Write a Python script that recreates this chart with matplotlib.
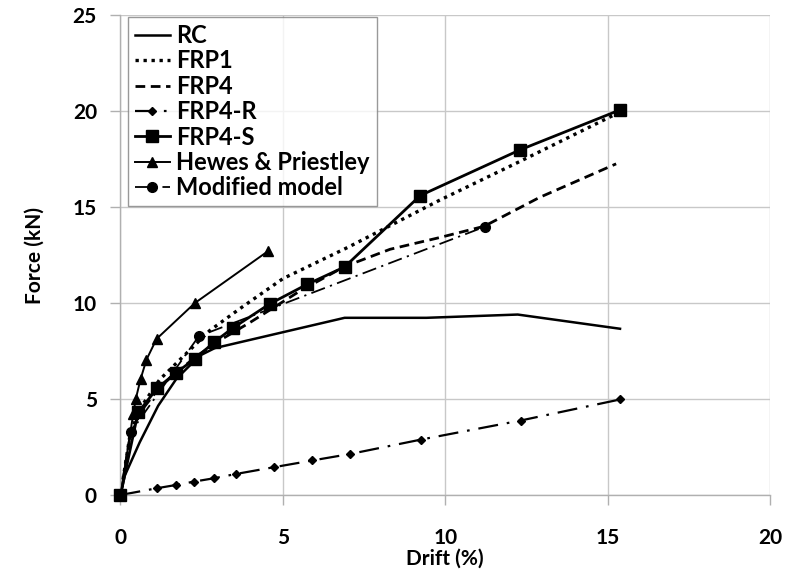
import matplotlib
matplotlib.use("Agg")
import matplotlib.pyplot as plt

plt.rcParams['font.family'] = ['Lato', 'DejaVu Sans']

# Data (drift %, force kN)
rc_x = [0, 0.13, 0.59, 1.16, 1.72, 2.44, 2.9, 6.9, 9.42, 12.23, 15.38]
rc_y = [0, 1.0, 2.74, 4.65, 6.05, 7.26, 7.65, 9.23, 9.23, 9.4, 8.66]

frp1_x = [0, 0.3, 0.6, 1.2, 1.8, 2.75, 3.67, 5.0, 7.0, 9.83, 12.29, 15.2]
frp1_y = [0, 3.2, 4.5, 6.0, 7.0, 8.57, 9.7, 11.27, 12.9, 15.36, 17.37, 19.8]

frp4_x = [0, 0.3, 0.6, 1.2, 1.8, 2.4, 3.0, 4.0, 5.5, 6.9, 8.3, 9.8, 11.2, 12.9, 15.26]
frp4_y = [0, 3.1, 4.3, 5.6, 6.5, 7.3, 8.0, 9.0, 10.6, 11.9, 12.8, 13.4, 14.0, 15.5, 17.25]

frp4r_x = [0, 1.11, 1.7, 2.27, 2.87, 3.57, 4.73, 5.91, 7.08, 9.26, 12.32, 15.39]
frp4r_y = [0, 0.35, 0.52, 0.7, 0.87, 1.1, 1.45, 1.8, 2.14, 2.89, 3.88, 4.98]

frp4s_x = [0, 0.54, 1.13, 1.7, 2.3, 2.88, 3.45, 4.6, 5.74, 6.9, 9.23, 12.29, 15.38]
frp4s_y = [0, 4.3, 5.56, 6.36, 7.1, 7.96, 8.69, 9.96, 10.97, 11.88, 15.6, 17.97, 20.06]

hp_x = [0, 0.39, 0.47, 0.62, 0.8, 1.11, 2.29, 4.54]
hp_y = [0, 4.2, 5.0, 6.05, 7.05, 8.13, 10.0, 12.7]

mm_x = [0, 0.31, 2.41, 11.21]
mm_y = [0, 3.26, 8.27, 13.97]

x_ticks = [0, 5, 10, 15, 20]
y_ticks = [0, 5, 10, 15, 20, 25]

fig = plt.figure(figsize=(7.85, 5.77), dpi=100)
ax = fig.add_axes([0.1535, 0.1421, 0.8275, 0.8318])

k = 'black'
ax.plot(rc_x, rc_y, color=k, lw=1.8, ls='-', label='RC', clip_on=False)
ax.plot(frp1_x, frp1_y, color=k, lw=2.4, ls=(0, (1, 1.4)), label='FRP1', clip_on=False)
ax.plot(frp4_x, frp4_y, color=k, lw=2.0, ls=(0, (3.5, 2)), label='FRP4', clip_on=False)
ax.plot(frp4r_x, frp4r_y, color=k, lw=1.6, ls=(0, (9, 4, 1.2, 4)), marker='D',
        ms=4.5, label='FRP4-R', clip_on=False)
ax.plot(frp4s_x, frp4s_y, color=k, lw=2.0, ls='-', marker='s', ms=8.5, label='FRP4-S',
        clip_on=False, zorder=4)
ax.plot(hp_x, hp_y, color=k, lw=1.4, ls='-', marker='^', ms=7, label='Hewes & Priestley',
        clip_on=False)
ax.plot(mm_x, mm_y, color=k, lw=1.3, ls=(0, (8, 3, 1.2, 3)), marker='o', ms=7,
        label='Modified model', clip_on=False)

ax.set_xlim(0, 20)
ax.set_ylim(0, 25)
ax.set_xticks(x_ticks)
ax.set_yticks(y_ticks)
ax.grid(True, color='#c8c8c8', lw=1.0)
ax.set_axisbelow(True)
for s in ['top', 'right']:
    ax.spines[s].set_visible(False)
for s in ['left', 'bottom']:
    ax.spines[s].set_color('#b0b0b0')
    ax.spines[s].set_linewidth(1.0)
ax.tick_params(axis='both', colors='#b0b0b0', length=7, width=1, labelcolor='black',
               labelsize=15)
ax.tick_params(axis='x', pad=17)
ax.tick_params(axis='y', pad=10)
for lab in ax.get_xticklabels() + ax.get_yticklabels():
    lab.set_fontweight('bold')

ax.set_xlabel('Drift (%)', fontsize=15, fontweight='bold', labelpad=0)
ax.set_ylabel('Force (kN)', fontsize=15, fontweight='bold', labelpad=20)

leg = ax.legend(loc='upper left', bbox_to_anchor=(0.011, 0.996), frameon=True, fancybox=False,
                prop={'size': 17, 'weight': 'bold'}, handlelength=1.5, handletextpad=0.25,
                labelspacing=0.1, borderpad=0.3, borderaxespad=0.0)
leg.get_frame().set_edgecolor('#808080')
leg.get_frame().set_linewidth(1.0)

fig.savefig('out.png', dpi=100)
